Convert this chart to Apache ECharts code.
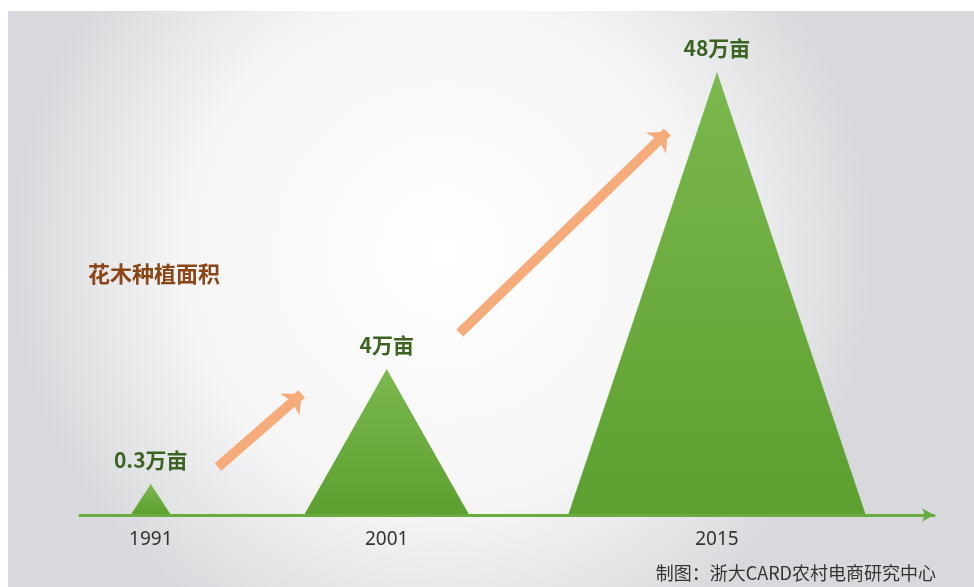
<!DOCTYPE html>
<html>
<head>
<meta charset="utf-8">
<script src="https://cdn.jsdelivr.net/npm/echarts@6/dist/echarts.min.js"></script>
<style>
  html, body { margin: 0; padding: 0; background: #fff; }
  #chart { width: 974px; height: 587px; }
</style>
</head>
<body>
<div id="chart"></div>
<script>
// data
const years = [1991, 2001, 2015]
const areaWan = [0.3, 4, 48]            // 种植面积, 万亩
const triangleHeight = [6.2, 29.2, 88.6] // drawn height of each triangle (not to scale in the original)
const tickLabels = ['1991', '2001', '2015']

// growth arrows, [from, to] in [year, height] units
const trendArrows = [
  [[1993.85, 9.6], [1997.4, 24.2]],
  [[2004.1, 36.4], [2012.9, 76.6]]
]

// styles
const baseWidth = [39, 164, 297]
const cjkFont = '"Noto Sans CJK SC", "Noto Sans", sans-serif'

const chart = echarts.init(document.getElementById('chart'))

const option = {
  animation: false,
  backgroundColor: '#ffffff',
  graphic: [
    {
      type: 'rect',
      z: -10,
      shape: { x: 8, y: 11, width: 966, height: 576 },
      style: {
        fill: new echarts.graphic.RadialGradient(0.45, 0.42, 0.75, [
          { offset: 0, color: '#ffffff' },
          { offset: 0.6, color: '#f5f5f6' },
          { offset: 1, color: '#d8d9dc' }
        ])
      }
    }
  ],
  title: [
    {
      text: '花木种植面积',
      left: 88,
      top: 263,
      padding: 0,
      textStyle: { color: '#8a4617', fontSize: 22, fontWeight: 'bold', fontFamily: cjkFont }
    },
    {
      text: '制图：浙大CARD农村电商研究中心',
      right: 38,
      top: 564,
      padding: 0,
      textStyle: { color: '#333333', fontSize: 18, fontWeight: 'normal', fontFamily: cjkFont }
    }
  ],
  grid: { left: 80, right: 40, top: 15, bottom: 72 },
  xAxis: {
    type: 'value',
    min: 1988,
    max: 2024.2,
    splitLine: { show: false },
    axisTick: { show: false },
    axisLine: {
      show: true,
      onZero: false,
      symbol: ['none', 'arrow'],
      symbolSize: [10, 12],
      lineStyle: { color: '#6aac3f', width: 3, cap: 'round' }
    },
    axisLabel: {
      customValues: years,
      formatter: (v) => tickLabels[years.indexOf(v)] || '',
      margin: 15,
      color: '#333333',
      fontSize: 19,
      fontFamily: '"Noto Sans", sans-serif'
    }
  },
  yAxis: {
    type: 'value',
    min: 0,
    max: 100,
    show: false
  },
  series: [
    {
      type: 'custom',
      data: years.map((y, i) => [y, triangleHeight[i]]),
      renderItem: function (params, api) {
        const i = params.dataIndex
        const apex = api.coord([api.value(0), api.value(1)])
        const base = api.coord([api.value(0), 0])
        const half = baseWidth[i] / 2
        return {
          type: 'group',
          children: [
            {
              type: 'polygon',
              shape: {
                points: [
                  [apex[0], apex[1]],
                  [base[0] + half, base[1] - 1],
                  [base[0] - half, base[1] - 1]
                ]
              },
              style: {
                fill: new echarts.graphic.LinearGradient(0, 0, 0, 1, [
                  { offset: 0, color: '#7bb84f' },
                  { offset: 1, color: '#5d9f30' }
                ])
              }
            },
            {
              type: 'text',
              x: apex[0],
              y: apex[1] - 24,
              style: {
                text: areaWan[i] + '万亩',
                fill: '#3b6420',
                font: 'bold 21px ' + cjkFont,
                align: 'center',
                verticalAlign: 'middle'
              }
            }
          ]
        }
      },
      markLine: {
        silent: true,
        symbol: ['none', 'arrow'],
        symbolSize: [22, 16],
        label: { show: false },
        lineStyle: { color: '#f6ab7b', width: 10, type: 'solid', opacity: 1 },
        emphasis: { disabled: true },
        data: trendArrows.map(a => [{ coord: a[0] }, { coord: a[1] }])
      }
    }
  ]
}

chart.setOption(option)
</script>
</body>
</html>
